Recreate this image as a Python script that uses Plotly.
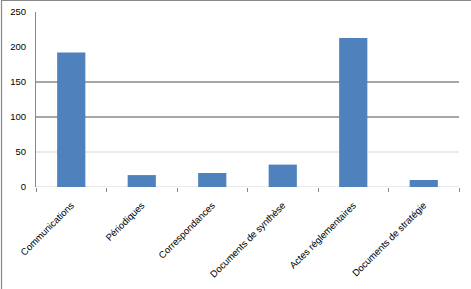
import plotly.graph_objects as go

categories = ["Communications", "Périodiques", "Correspondances",
              "Documents de synthèse", "Actes réglementaires", "Documents de stratégie"]
values = [192, 17, 20, 32, 213, 10]
y_ticks = [0, 50, 100, 150, 200, 250]

W, H = 471, 289
L, R, T, B = 36, 12, 12, 102
pw, ph = W - L - R, H - T - B

fig = go.Figure()
fig.add_trace(go.Bar(x=categories, y=values, marker=dict(color="#4F81BD", line=dict(width=0)),
                     width=0.4))

shapes = []
# gridlines (as seen in the reference)
for yv, col in [(0, "#e3e3e3"), (50, "#e3e3e3"), (100, "#8a8a8a"), (150, "#8a8a8a")]:
    shapes.append(dict(type="line", xref="x domain", yref="y", x0=0, x1=1, y0=yv, y1=yv,
                       line=dict(color=col, width=1.5), layer="below"))
# outer chart border (only top and left edges are visible)
shapes.append(dict(type="rect", xref="paper", yref="paper",
                   x0=-(L - 1.5) / pw, x1=(pw + R + 40) / pw,
                   y0=-(B + 40) / ph, y1=1 + (T - 0.5) / ph,
                   line=dict(color="#888888", width=1.2), fillcolor="rgba(0,0,0,0)"))

fig.update_layout(
    width=W, height=H,
    margin=dict(l=L, r=R, t=T, b=B, autoexpand=False),
    paper_bgcolor="white", plot_bgcolor="white",
    showlegend=False,
    shapes=shapes,
    font=dict(family="Liberation Sans, Arial, sans-serif", size=10, color="black"),
)
fig.update_xaxes(
    tickangle=-45, showgrid=False, showline=False, zeroline=False, automargin=False,
    ticks="outside", tickson="boundaries", ticklen=4, tickcolor="#888888", tickwidth=1,
    tickfont=dict(size=9.5), ticklabelstandoff=10,
)
fig.update_yaxes(
    range=[0, 250], tickvals=y_ticks, showgrid=False, zeroline=False, automargin=False,
    showline=True, linecolor="#888888", linewidth=1,
    ticks="", ticklabelstandoff=7, tickfont=dict(size=9.5),
)

fig.write_html("out.html")
